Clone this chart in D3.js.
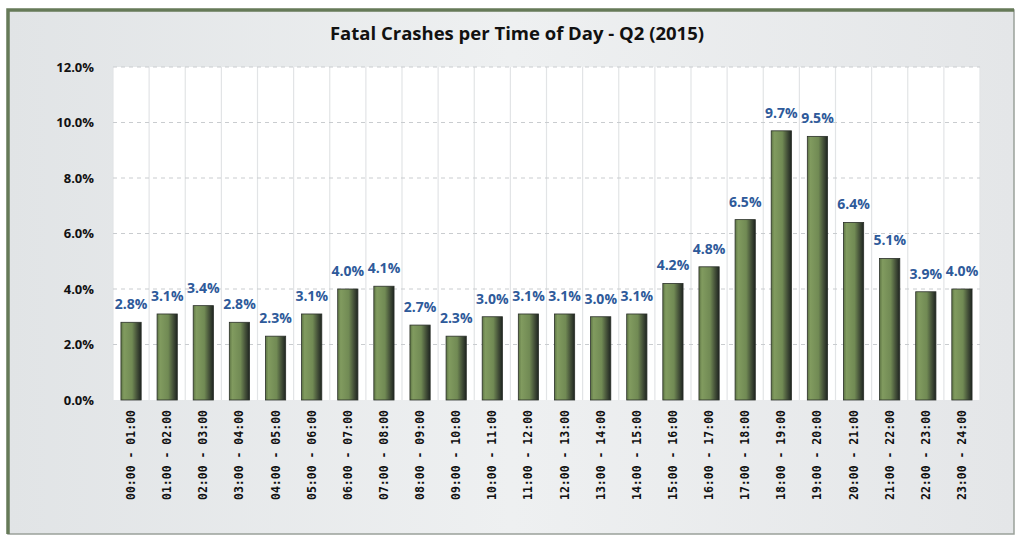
<!DOCTYPE html>
<html>
<head>
<meta charset="utf-8">
<script src="https://cdn.jsdelivr.net/npm/d3@7"></script>
<style>
  body { margin: 0; background: #fff; }
</style>
</head>
<body>
<script>
// hour ranges on the x axis
var hours = ["00:00 - 01:00","01:00 - 02:00","02:00 - 03:00","03:00 - 04:00","04:00 - 05:00",
  "05:00 - 06:00","06:00 - 07:00","07:00 - 08:00","08:00 - 09:00","09:00 - 10:00",
  "10:00 - 11:00","11:00 - 12:00","12:00 - 13:00","13:00 - 14:00","14:00 - 15:00",
  "15:00 - 16:00","16:00 - 17:00","17:00 - 18:00","18:00 - 19:00","19:00 - 20:00",
  "20:00 - 21:00","21:00 - 22:00","22:00 - 23:00","23:00 - 24:00"];

// share of fatal crashes (%)
var shares = [2.8, 3.1, 3.4, 2.8, 2.3, 3.1, 4.0, 4.1, 2.7, 2.3, 3.0, 3.1,
  3.1, 3.0, 3.1, 4.2, 4.8, 6.5, 9.7, 9.5, 6.4, 5.1, 3.9, 4.0];

var yTicks = [0, 2, 4, 6, 8, 10, 12];

var width = 1020, height = 539;
var plotLeft = 113, plotRight = 980, plotTop = 67, plotBottom = 400;
var sans = "'Open Sans', 'DejaVu Sans', sans-serif";

var svg = d3.select("body").append("svg")
    .attr("width", width)
    .attr("height", height);

var defs = svg.append("defs");
var bg = defs.append("linearGradient").attr("id", "bg").attr("x1", 0).attr("x2", 1).attr("y1", 0).attr("y2", 0);
bg.append("stop").attr("offset", "0%").attr("stop-color", "#e1e4e6");
bg.append("stop").attr("offset", "50%").attr("stop-color", "#eef0f1");
bg.append("stop").attr("offset", "100%").attr("stop-color", "#e4e6e8");

var barGrad = defs.append("linearGradient").attr("id", "bar").attr("x1", 0).attr("x2", 1).attr("y1", 0).attr("y2", 0);
barGrad.append("stop").attr("offset", "0%").attr("stop-color", "#5d7444");
barGrad.append("stop").attr("offset", "15%").attr("stop-color", "#819b5f");
barGrad.append("stop").attr("offset", "55%").attr("stop-color", "#718a54");
barGrad.append("stop").attr("offset", "80%").attr("stop-color", "#434f38");
barGrad.append("stop").attr("offset", "100%").attr("stop-color", "#1e2420");

// frame
svg.append("rect")
    .attr("x", 8).attr("y", 10)
    .attr("width", 1006).attr("height", 524)
    .attr("fill", "url(#bg)")
    .attr("stroke", "#9aa19a")
    .attr("stroke-width", 1.5);
svg.append("path")
    .attr("d", "M8,534 V10 H1014")
    .attr("fill", "none")
    .attr("stroke", "#667a58")
    .attr("stroke-width", 3.5);

var x = d3.scaleBand()
    .domain(hours)
    .range([plotLeft, plotRight])
    .paddingInner(0.44)
    .paddingOuter(0.22);

var y = d3.scaleLinear()
    .domain([0, 12])
    .range([plotBottom, plotTop]);

// plot area
svg.append("rect")
    .attr("x", plotLeft).attr("y", plotTop)
    .attr("width", plotRight - plotLeft).attr("height", plotBottom - plotTop)
    .attr("fill", "#ffffff");

// vertical gridlines between categories
svg.append("g").selectAll("line")
    .data(d3.range(hours.length + 1))
    .enter().append("line")
    .attr("x1", function(i) { return plotLeft + i * (plotRight - plotLeft) / hours.length; })
    .attr("x2", function(i) { return plotLeft + i * (plotRight - plotLeft) / hours.length; })
    .attr("y1", plotTop).attr("y2", plotBottom)
    .attr("stroke", "#e2e4e6")
    .attr("stroke-width", 1.2);

// horizontal dashed gridlines
svg.append("g").selectAll("line")
    .data(yTicks.slice(1))
    .enter().append("line")
    .attr("x1", plotLeft).attr("x2", plotRight)
    .attr("y1", function(d) { return y(d); })
    .attr("y2", function(d) { return y(d); })
    .attr("stroke", "#c9cccf")
    .attr("stroke-dasharray", "4,4");

// y axis labels
var yAxis = svg.append("g")
    .attr("transform", "translate(" + (plotLeft - 16) + ",0)")
    .call(d3.axisLeft(y).tickValues(yTicks).tickSize(0).tickFormat(function(d) { return d3.format(".1f")(d) + "%"; }));
yAxis.select(".domain").remove();
yAxis.selectAll("text")
    .style("font-family", sans)
    .style("font-size", "13px")
    .style("font-weight", "bold")
    .attr("fill", "#111");

// bars
svg.append("g").selectAll("rect")
    .data(shares)
    .enter().append("rect")
    .attr("x", function(d, i) { return x(hours[i]); })
    .attr("y", function(d) { return y(d); })
    .attr("width", x.bandwidth())
    .attr("height", function(d) { return plotBottom - y(d); })
    .attr("fill", "url(#bar)")
    .attr("stroke", "#2a2f28")
    .attr("stroke-width", 0.8);

// value labels
svg.append("g").selectAll("text")
    .data(shares)
    .enter().append("text")
    .attr("x", function(d, i) { return x(hours[i]) + x.bandwidth() / 2; })
    .attr("y", function(d) { return y(d) - 13; })
    .attr("text-anchor", "middle")
    .style("font-family", sans)
    .style("font-size", "14px")
    .style("font-weight", "bold")
    .attr("fill", "#2e5a9a")
    .text(function(d) { return d3.format(".1f")(d) + "%"; });

// x axis labels
var xAxis = svg.append("g")
    .attr("transform", "translate(0," + (plotBottom + 10) + ")")
    .call(d3.axisBottom(x).tickSize(0));
xAxis.select(".domain").remove();
xAxis.selectAll("text")
    .attr("transform", "rotate(-90)")
    .attr("text-anchor", "end")
    .attr("x", 0)
    .attr("y", 0)
    .attr("dy", "0.35em")
    .style("font-family", "'DejaVu Sans Mono', monospace")
    .style("font-size", "11.5px")
    .style("font-weight", "bold")
    .attr("fill", "#111");

// title
svg.append("text")
    .attr("x", 517)
    .attr("y", 40)
    .attr("text-anchor", "middle")
    .style("font-family", sans)
    .style("font-size", "18.5px")
    .style("font-weight", "bold")
    .attr("fill", "#111")
    .text("Fatal Crashes per Time of Day - Q2 (2015)");
</script>
</body>
</html>
